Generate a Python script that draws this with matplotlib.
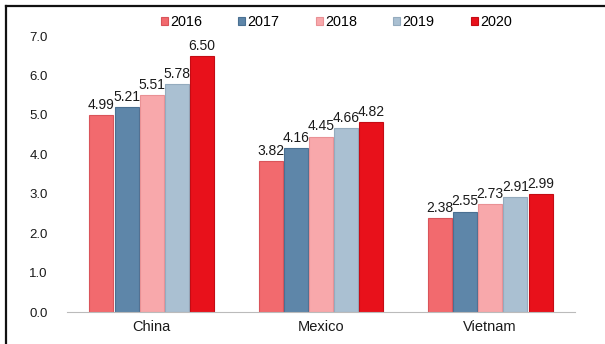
import matplotlib
matplotlib.use("Agg")
import matplotlib.pyplot as plt
import numpy as np
from matplotlib.lines import Line2D

countries = ["China", "Mexico", "Vietnam"]
years = ["2016", "2017", "2018", "2019", "2020"]
values = {
    "2016": [4.99, 3.82, 2.38],
    "2017": [5.21, 4.16, 2.55],
    "2018": [5.51, 4.45, 2.73],
    "2019": [5.78, 4.66, 2.91],
    "2020": [6.50, 4.82, 2.99],
}
yticks = [0.0, 1.0, 2.0, 3.0, 4.0, 5.0, 6.0, 7.0]

colors = ["#F26A6E", "#5E86A9", "#F8A8AB", "#AAC0D2", "#E8111B"]
edges = ["#D9545A", "#4A7092", "#E99195", "#94ABBE", "#C40C14"]

plt.rcParams["font.family"] = ["Liberation Sans", "DejaVu Sans"]

fig = plt.figure(figsize=(6.05, 3.44), dpi=100)
ax = fig.add_axes([0.111, 0.093, 0.839, 0.802])

x = np.arange(len(countries))
slot = 0.149
bw = 0.142
for i, yr in enumerate(years):
    pos = x + (i - 2) * slot
    bars = ax.bar(pos, values[yr], width=bw, color=colors[i],
                  edgecolor=edges[i], linewidth=0.8, label=yr, zorder=2)
    for b, v in zip(bars, values[yr]):
        ax.text(b.get_x() + b.get_width() / 2, v + 0.08, f"{v:.2f}",
                ha="center", va="bottom", fontsize=10, color="#1a1a1a")

ax.set_xlim(-0.5, 2.5)
ax.set_ylim(0, 7.0)
ax.set_yticks(yticks)
ax.set_yticklabels([f"{t:.1f}" for t in yticks], fontsize=9.5, color="#1a1a1a")
ax.set_xticks(x)
ax.set_xticklabels(countries, fontsize=10.5, color="#1a1a1a")
for s in ["top", "right", "left"]:
    ax.spines[s].set_visible(False)
ax.spines["bottom"].set_color("#BBBBBB")
ax.tick_params(axis="both", length=0)
ax.tick_params(axis="y", pad=14)
ax.tick_params(axis="x", pad=6)

ax.legend(loc="center", bbox_to_anchor=(0.53, 1.051), ncol=5, frameon=False,
          fontsize=10.4, handlelength=0.5, handleheight=0.5, handletextpad=0.15,
          columnspacing=2.5)

# frame around the figure (left and top edges)
fig.add_artist(Line2D([6 / 605, 6 / 605], [0, 1 - 6 / 344], color="#111111",
                      linewidth=1.6, transform=fig.transFigure))
fig.add_artist(Line2D([6 / 605, 1], [1 - 6 / 344, 1 - 6 / 344], color="#111111",
                      linewidth=1.6, transform=fig.transFigure))

fig.savefig("out.png", dpi=100)
